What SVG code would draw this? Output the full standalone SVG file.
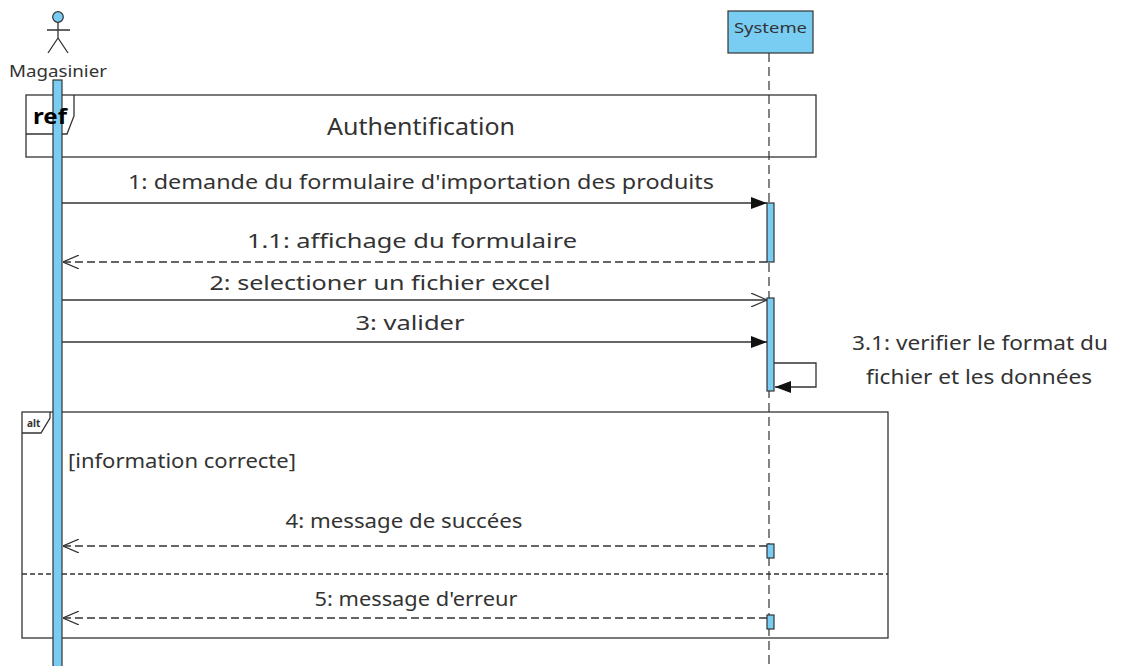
<svg xmlns="http://www.w3.org/2000/svg" width="1124" height="666" viewBox="0 0 1124 666">
<defs>
<style>
text{font-family:"Noto Sans","Open Sans","Liberation Sans",sans-serif;fill:#333}
.msg{font-size:20px}
.frame{fill:none;stroke:#333;stroke-width:1.3}
.act{fill:#79CDF3;stroke:#333;stroke-width:1.2}
.line{stroke:#333;stroke-width:1.3;fill:none}
.dash{stroke:#333;stroke-width:1.3;fill:none;stroke-dasharray:8 4}
.life{stroke:#333;stroke-width:1.2;stroke-dasharray:9 5}
</style>
<marker id="filled" viewBox="0 0 16 12" refX="16" refY="6" markerWidth="16" markerHeight="12" markerUnits="userSpaceOnUse" orient="auto">
<path d="M0,0 L16,6 L0,12 Z" fill="#111"/>
</marker>
<marker id="open" viewBox="0 0 16 14" refX="16" refY="7" markerWidth="16" markerHeight="14" markerUnits="userSpaceOnUse" orient="auto">
<path d="M0,0 L16,7 L0,14" fill="none" stroke="#333" stroke-width="1.2"/>
</marker>
</defs>
<rect width="1124" height="666" fill="#fff"/>

<g id="frame-ref">
<rect class="frame" x="26" y="95" width="790" height="62"/>
<path class="frame" d="M26,134 H67 L74,116 V95"/>
<text x="421" y="135" font-size="23" text-anchor="middle" textLength="188" lengthAdjust="spacingAndGlyphs">Authentification</text>
</g>

<g id="frame-alt">
<rect class="frame" x="22" y="412" width="866" height="226"/>
<path class="frame" d="M22,433 H41 L50,418 V412"/>
<text x="27" y="427" font-size="10" font-weight="bold">alt</text>
<line x1="22" y1="574" x2="888" y2="574" class="frame" stroke-dasharray="5 3"/>
<text x="68" y="468" class="msg" textLength="228" lengthAdjust="spacingAndGlyphs">[information correcte]</text>
</g>

<g id="actor-magasinier">
<circle cx="58" cy="17" r="5.3" fill="#79CDF3" stroke="#333" stroke-width="1.2"/>
<path class="line" d="M58,22 V38 M47,30 H70 M58,38 L48,53 M58,38 L68,53"/>
<text x="58" y="77" font-size="15.5" text-anchor="middle" textLength="98" lengthAdjust="spacingAndGlyphs">Magasinier</text>
<rect class="act" x="53" y="80" width="9" height="590"/>
</g>

<g id="frame-ref-label">
<text x="33" y="124" font-size="22" font-weight="bold" style="fill:#000" textLength="34" lengthAdjust="spacingAndGlyphs">ref</text>
</g>

<g id="lifeline-systeme">
<rect x="728" y="11" width="85" height="42" fill="#79CDF3" stroke="#333" stroke-width="1.2"/>
<text x="770.5" y="33" font-size="15" text-anchor="middle" textLength="73" lengthAdjust="spacingAndGlyphs">Systeme</text>
<line class="life" x1="769" y1="53" x2="769" y2="666"/>
<rect class="act" x="767" y="203" width="7" height="59"/>
<rect class="act" x="767" y="298" width="7" height="93"/>
<rect class="act" x="767" y="544" width="7" height="14"/>
<rect class="act" x="767" y="615" width="7" height="14"/>
</g>

<g id="connectors">
<line class="line" x1="62" y1="203" x2="767" y2="203" marker-end="url(#filled)"/>
<text x="421" y="189" class="msg" text-anchor="middle" textLength="586" lengthAdjust="spacingAndGlyphs">1: demande du formulaire d'importation des produits</text>

<line class="dash" x1="767" y1="262" x2="63" y2="262" marker-end="url(#open)"/>
<text x="412" y="248" class="msg" text-anchor="middle" textLength="330" lengthAdjust="spacingAndGlyphs">1.1: affichage du formulaire</text>

<line class="line" x1="62" y1="300" x2="767" y2="300" marker-end="url(#open)"/>
<text x="380" y="290" class="msg" text-anchor="middle" textLength="341" lengthAdjust="spacingAndGlyphs">2: selectioner un fichier excel</text>

<line class="line" x1="62" y1="342" x2="767" y2="342" marker-end="url(#filled)"/>
<text x="410" y="330" class="msg" text-anchor="middle" textLength="109" lengthAdjust="spacingAndGlyphs">3: valider</text>

<path class="line" d="M774,363 H816 V387 H775" marker-end="url(#filled)"/>
<text x="980" y="350" class="msg" text-anchor="middle" textLength="256" lengthAdjust="spacingAndGlyphs">3.1: verifier le format du</text>
<text x="979" y="384" class="msg" text-anchor="middle" textLength="226" lengthAdjust="spacingAndGlyphs">fichier et les données</text>

<line class="dash" x1="767" y1="546" x2="63" y2="546" marker-end="url(#open)"/>
<text x="404" y="528" class="msg" text-anchor="middle" textLength="237" lengthAdjust="spacingAndGlyphs">4: message de succées</text>

<line class="dash" x1="767" y1="618" x2="63" y2="618" marker-end="url(#open)"/>
<text x="416" y="606" class="msg" text-anchor="middle" textLength="203" lengthAdjust="spacingAndGlyphs">5: message d'erreur</text>
</g>
</svg>
